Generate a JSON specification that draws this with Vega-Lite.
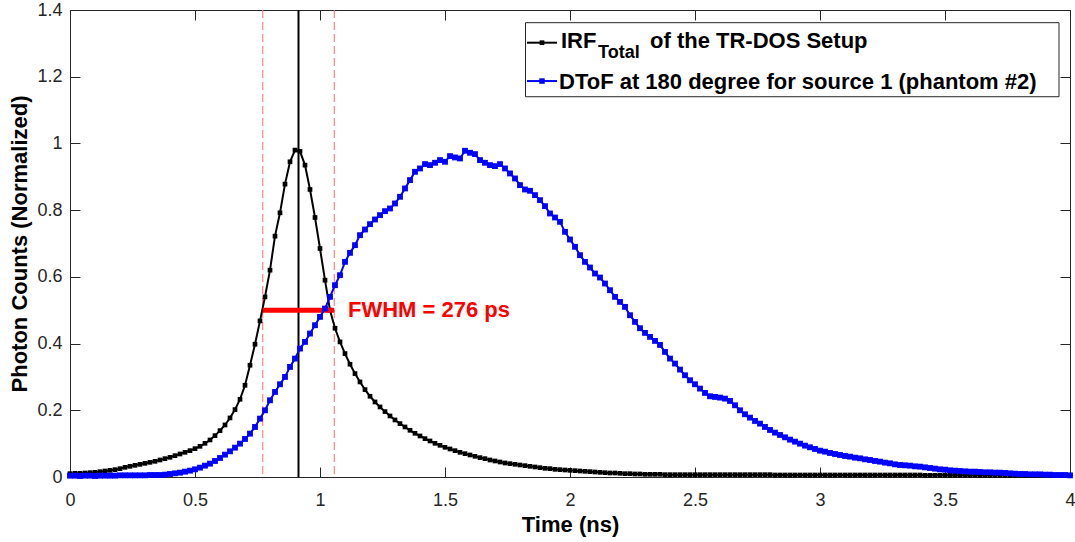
{
  "$schema": "https://vega.github.io/schema/vega-lite/v6.json",
  "width": 1000,
  "height": 467,
  "autosize": {"type": "none"},
  "padding": {"left": 70, "top": 10, "right": 5, "bottom": 65},
  "background": "white",
  "config": {
    "font": "Liberation Sans",
    "view": {"stroke": "#262626", "strokeWidth": 1},
    "axis": {"grid": false, "labelFont": "Liberation Sans", "titleFont": "Liberation Sans", "labelColor": "#262626", "domainColor": "#262626", "tickColor": "#262626", "labelFlush": false, "labelOverlap": false}
  },
  "datasets": {
    "curves": [
      {"t":0,"irf":0.010,"dtof":0.004},{"t":0.02,"irf":0.011,"dtof":0.004},{"t":0.04,"irf":0.011,"dtof":0.003},{"t":0.06,"irf":0.012,"dtof":0.004},{"t":0.08,"irf":0.013,"dtof":0.004},
      {"t":0.1,"irf":0.014,"dtof":0.003},{"t":0.12,"irf":0.016,"dtof":0.004},{"t":0.14,"irf":0.018,"dtof":0.004},{"t":0.16,"irf":0.020,"dtof":0.004},{"t":0.18,"irf":0.022,"dtof":0.004},
      {"t":0.2,"irf":0.025,"dtof":0.005},{"t":0.22,"irf":0.029,"dtof":0.005},{"t":0.24,"irf":0.032,"dtof":0.005},{"t":0.26,"irf":0.035,"dtof":0.005},{"t":0.28,"irf":0.038,"dtof":0.005},
      {"t":0.3,"irf":0.041,"dtof":0.005},{"t":0.32,"irf":0.044,"dtof":0.006},{"t":0.34,"irf":0.047,"dtof":0.006},{"t":0.36,"irf":0.051,"dtof":0.006},{"t":0.38,"irf":0.055,"dtof":0.007},
      {"t":0.4,"irf":0.059,"dtof":0.009},{"t":0.42,"irf":0.064,"dtof":0.011},{"t":0.44,"irf":0.069,"dtof":0.013},{"t":0.46,"irf":0.074,"dtof":0.016},{"t":0.48,"irf":0.079,"dtof":0.019},
      {"t":0.5,"irf":0.085,"dtof":0.023},{"t":0.52,"irf":0.092,"dtof":0.028},{"t":0.54,"irf":0.101,"dtof":0.034},{"t":0.56,"irf":0.111,"dtof":0.040},{"t":0.58,"irf":0.124,"dtof":0.048},
      {"t":0.6,"irf":0.139,"dtof":0.057},{"t":0.62,"irf":0.156,"dtof":0.067},{"t":0.64,"irf":0.177,"dtof":0.077},{"t":0.66,"irf":0.202,"dtof":0.088},{"t":0.68,"irf":0.233,"dtof":0.100},
      {"t":0.7,"irf":0.275,"dtof":0.114},{"t":0.72,"irf":0.335,"dtof":0.130},{"t":0.74,"irf":0.398,"dtof":0.150},{"t":0.76,"irf":0.468,"dtof":0.175},{"t":0.78,"irf":0.540,"dtof":0.200},
      {"t":0.8,"irf":0.620,"dtof":0.230},{"t":0.82,"irf":0.722,"dtof":0.255},{"t":0.84,"irf":0.792,"dtof":0.278},{"t":0.86,"irf":0.878,"dtof":0.300},{"t":0.88,"irf":0.945,"dtof":0.330},
      {"t":0.9,"irf":0.980,"dtof":0.355},{"t":0.92,"irf":0.976,"dtof":0.385},{"t":0.94,"irf":0.935,"dtof":0.405},{"t":0.96,"irf":0.862,"dtof":0.430},{"t":0.98,"irf":0.778,"dtof":0.455},
      {"t":1,"irf":0.685,"dtof":0.480},{"t":1.02,"irf":0.590,"dtof":0.505},{"t":1.04,"irf":0.500,"dtof":0.540},{"t":1.06,"irf":0.446,"dtof":0.575},{"t":1.08,"irf":0.405,"dtof":0.605},
      {"t":1.1,"irf":0.370,"dtof":0.645},{"t":1.12,"irf":0.338,"dtof":0.672},{"t":1.14,"irf":0.310,"dtof":0.695},{"t":1.16,"irf":0.285,"dtof":0.725},{"t":1.18,"irf":0.262,"dtof":0.742},
      {"t":1.2,"irf":0.242,"dtof":0.758},{"t":1.22,"irf":0.225,"dtof":0.772},{"t":1.24,"irf":0.210,"dtof":0.785},{"t":1.26,"irf":0.196,"dtof":0.797},{"t":1.28,"irf":0.183,"dtof":0.805},
      {"t":1.3,"irf":0.171,"dtof":0.820},{"t":1.32,"irf":0.160,"dtof":0.840},{"t":1.34,"irf":0.150,"dtof":0.865},{"t":1.36,"irf":0.140,"dtof":0.890},{"t":1.38,"irf":0.131,"dtof":0.915},
      {"t":1.4,"irf":0.123,"dtof":0.925},{"t":1.42,"irf":0.115,"dtof":0.938},{"t":1.44,"irf":0.108,"dtof":0.935},{"t":1.46,"irf":0.101,"dtof":0.942},{"t":1.48,"irf":0.095,"dtof":0.950},
      {"t":1.5,"irf":0.089,"dtof":0.945},{"t":1.52,"irf":0.084,"dtof":0.962},{"t":1.54,"irf":0.079,"dtof":0.958},{"t":1.56,"irf":0.074,"dtof":0.955},{"t":1.58,"irf":0.070,"dtof":0.978},
      {"t":1.6,"irf":0.066,"dtof":0.972},{"t":1.62,"irf":0.062,"dtof":0.968},{"t":1.64,"irf":0.058,"dtof":0.950},{"t":1.66,"irf":0.055,"dtof":0.942},{"t":1.68,"irf":0.051,"dtof":0.935},
      {"t":1.7,"irf":0.048,"dtof":0.932},{"t":1.72,"irf":0.045,"dtof":0.938},{"t":1.74,"irf":0.042,"dtof":0.925},{"t":1.76,"irf":0.040,"dtof":0.910},{"t":1.78,"irf":0.038,"dtof":0.895},
      {"t":1.8,"irf":0.036,"dtof":0.875},{"t":1.82,"irf":0.034,"dtof":0.862},{"t":1.84,"irf":0.032,"dtof":0.858},{"t":1.86,"irf":0.030,"dtof":0.845},{"t":1.88,"irf":0.028,"dtof":0.830},
      {"t":1.9,"irf":0.026,"dtof":0.812},{"t":1.92,"irf":0.025,"dtof":0.790},{"t":1.94,"irf":0.023,"dtof":0.778},{"t":1.96,"irf":0.022,"dtof":0.765},{"t":1.98,"irf":0.021,"dtof":0.735},
      {"t":2,"irf":0.020,"dtof":0.712},{"t":2.02,"irf":0.019,"dtof":0.690},{"t":2.04,"irf":0.018,"dtof":0.665},{"t":2.06,"irf":0.017,"dtof":0.645},{"t":2.08,"irf":0.016,"dtof":0.628},
      {"t":2.1,"irf":0.015,"dtof":0.610},{"t":2.12,"irf":0.014,"dtof":0.598},{"t":2.14,"irf":0.013,"dtof":0.580},{"t":2.16,"irf":0.012,"dtof":0.560},{"t":2.18,"irf":0.012,"dtof":0.540},
      {"t":2.2,"irf":0.011,"dtof":0.525},{"t":2.22,"irf":0.010,"dtof":0.510},{"t":2.24,"irf":0.010,"dtof":0.485},{"t":2.26,"irf":0.009,"dtof":0.465},{"t":2.28,"irf":0.009,"dtof":0.446},
      {"t":2.3,"irf":0.008,"dtof":0.432},{"t":2.32,"irf":0.008,"dtof":0.420},{"t":2.34,"irf":0.008,"dtof":0.408},{"t":2.36,"irf":0.008,"dtof":0.396},{"t":2.38,"irf":0.007,"dtof":0.375},
      {"t":2.4,"irf":0.007,"dtof":0.355},{"t":2.42,"irf":0.007,"dtof":0.340},{"t":2.44,"irf":0.007,"dtof":0.322},{"t":2.46,"irf":0.007,"dtof":0.305},{"t":2.48,"irf":0.007,"dtof":0.290},
      {"t":2.5,"irf":0.007,"dtof":0.278},{"t":2.52,"irf":0.007,"dtof":0.265},{"t":2.54,"irf":0.007,"dtof":0.252},{"t":2.56,"irf":0.007,"dtof":0.242},{"t":2.58,"irf":0.007,"dtof":0.240},
      {"t":2.6,"irf":0.007,"dtof":0.238},{"t":2.62,"irf":0.007,"dtof":0.235},{"t":2.64,"irf":0.007,"dtof":0.228},{"t":2.66,"irf":0.007,"dtof":0.215},{"t":2.68,"irf":0.007,"dtof":0.200},
      {"t":2.7,"irf":0.007,"dtof":0.188},{"t":2.72,"irf":0.007,"dtof":0.178},{"t":2.74,"irf":0.007,"dtof":0.168},{"t":2.76,"irf":0.007,"dtof":0.160},{"t":2.78,"irf":0.007,"dtof":0.150},
      {"t":2.8,"irf":0.007,"dtof":0.141},{"t":2.82,"irf":0.006,"dtof":0.133},{"t":2.84,"irf":0.006,"dtof":0.126},{"t":2.86,"irf":0.006,"dtof":0.119},{"t":2.88,"irf":0.006,"dtof":0.112},
      {"t":2.9,"irf":0.006,"dtof":0.106},{"t":2.92,"irf":0.006,"dtof":0.100},{"t":2.94,"irf":0.006,"dtof":0.094},{"t":2.96,"irf":0.006,"dtof":0.089},{"t":2.98,"irf":0.006,"dtof":0.084},
      {"t":3,"irf":0.006,"dtof":0.079},{"t":3.02,"irf":0.006,"dtof":0.076},{"t":3.04,"irf":0.006,"dtof":0.072},{"t":3.06,"irf":0.006,"dtof":0.069},{"t":3.08,"irf":0.006,"dtof":0.066},
      {"t":3.1,"irf":0.006,"dtof":0.063},{"t":3.12,"irf":0.006,"dtof":0.061},{"t":3.14,"irf":0.006,"dtof":0.058},{"t":3.16,"irf":0.006,"dtof":0.056},{"t":3.18,"irf":0.006,"dtof":0.053},
      {"t":3.2,"irf":0.006,"dtof":0.051},{"t":3.22,"irf":0.006,"dtof":0.048},{"t":3.24,"irf":0.006,"dtof":0.046},{"t":3.26,"irf":0.006,"dtof":0.043},{"t":3.28,"irf":0.006,"dtof":0.041},
      {"t":3.3,"irf":0.006,"dtof":0.038},{"t":3.32,"irf":0.006,"dtof":0.036},{"t":3.34,"irf":0.006,"dtof":0.035},{"t":3.36,"irf":0.006,"dtof":0.034},{"t":3.38,"irf":0.006,"dtof":0.032},
      {"t":3.4,"irf":0.006,"dtof":0.031},{"t":3.42,"irf":0.005,"dtof":0.029},{"t":3.44,"irf":0.005,"dtof":0.027},{"t":3.46,"irf":0.005,"dtof":0.025},{"t":3.48,"irf":0.005,"dtof":0.023},
      {"t":3.5,"irf":0.005,"dtof":0.022},{"t":3.52,"irf":0.005,"dtof":0.020},{"t":3.54,"irf":0.005,"dtof":0.019},{"t":3.56,"irf":0.005,"dtof":0.018},{"t":3.58,"irf":0.005,"dtof":0.017},
      {"t":3.6,"irf":0.005,"dtof":0.016},{"t":3.62,"irf":0.005,"dtof":0.016},{"t":3.64,"irf":0.005,"dtof":0.015},{"t":3.66,"irf":0.005,"dtof":0.014},{"t":3.68,"irf":0.005,"dtof":0.014},
      {"t":3.7,"irf":0.005,"dtof":0.013},{"t":3.72,"irf":0.005,"dtof":0.013},{"t":3.74,"irf":0.005,"dtof":0.012},{"t":3.76,"irf":0.005,"dtof":0.011},{"t":3.78,"irf":0.005,"dtof":0.010},
      {"t":3.8,"irf":0.005,"dtof":0.009},{"t":3.82,"irf":0.005,"dtof":0.009},{"t":3.84,"irf":0.005,"dtof":0.008},{"t":3.86,"irf":0.005,"dtof":0.008},{"t":3.88,"irf":0.005,"dtof":0.008},
      {"t":3.9,"irf":0.005,"dtof":0.007},{"t":3.92,"irf":0.005,"dtof":0.007},{"t":3.94,"irf":0.005,"dtof":0.006},{"t":3.96,"irf":0.005,"dtof":0.006},{"t":3.98,"irf":0.005,"dtof":0.006},
      {"t":4,"irf":0.005,"dtof":0.005}
    ],
    "one": [{}]
  },
  "resolve": {"axis": {"x": "independent", "y": "independent"}},
  "layer": [
    {
      "data": {"name": "one"},
      "mark": {"type": "rule", "color": "#ff6b6b", "strokeDash": [8, 4], "strokeWidth": 1},
      "encoding": {"x": {"datum": 0.771, "type": "quantitative", "scale": {"domain": [0, 4], "nice": false}, "axis": null}}
    },
    {
      "data": {"name": "one"},
      "mark": {"type": "rule", "color": "#ff6b6b", "strokeDash": [8, 4], "strokeWidth": 1},
      "encoding": {"x": {"datum": 1.057, "type": "quantitative", "scale": {"domain": [0, 4], "nice": false}, "axis": null}}
    },
    {
      "data": {"name": "one"},
      "mark": {"type": "rule", "color": "black", "strokeWidth": 2},
      "encoding": {"x": {"datum": 0.914, "type": "quantitative", "scale": {"domain": [0, 4], "nice": false}, "axis": null}}
    },
    {
      "data": {"name": "curves"},
      "mark": {"type": "line", "color": "black", "strokeWidth": 2, "point": {"shape": "square", "filled": true, "size": 22, "color": "black"}},
      "encoding": {
        "x": {"field": "t", "type": "quantitative", "scale": {"domain": [0, 4], "nice": false},
          "axis": {"orient": "bottom", "values": [0, 0.5, 1, 1.5, 2, 2.5, 3, 3.5, 4], "format": "~g", "tickSize": -10, "labelPadding": 24, "labelFontSize": 18,
            "title": "Time (ns)", "titleFontSize": 22, "titleFontWeight": "bold", "titleColor": "black", "titleX": 500, "titleY": 54, "titleBaseline": "alphabetic", "titleAnchor": "middle", "titleAlign": "center"}},
        "y": {"field": "irf", "type": "quantitative", "scale": {"domain": [0, 1.4], "nice": false, "zero": false},
          "axis": {"orient": "left", "values": [0, 0.2, 0.4, 0.6, 0.8, 1, 1.2, 1.4], "format": "~g", "tickSize": -10, "labelPadding": 18, "labelFontSize": 18,
            "title": "Photon Counts (Normalized)", "titleFontSize": 22, "titleFontWeight": "bold", "titleColor": "black", "titleX": -44, "titleY": 233.5, "titleBaseline": "alphabetic", "titleAlign": "center", "titleAngle": 270}}
      }
    },
    {
      "data": {"name": "one"},
      "mark": {"type": "rule", "color": "#ff0000", "strokeWidth": 5},
      "encoding": {
        "x": {"datum": 0.771, "type": "quantitative", "scale": {"domain": [0, 4], "nice": false}, "axis": null},
        "x2": {"datum": 1.057},
        "y": {"datum": 0.5, "type": "quantitative", "scale": {"domain": [0, 1.4], "nice": false, "zero": false}, "axis": null}
      }
    },
    {
      "data": {"name": "curves"},
      "mark": {"type": "line", "color": "#0000ff", "strokeWidth": 2, "point": {"shape": "square", "filled": true, "size": 34, "color": "#0000ff"}},
      "encoding": {
        "x": {"field": "t", "type": "quantitative", "scale": {"domain": [0, 4], "nice": false},
          "axis": {"orient": "top", "values": [0, 0.5, 1, 1.5, 2, 2.5, 3, 3.5, 4], "labels": false, "tickSize": -10, "title": null}},
        "y": {"field": "dtof", "type": "quantitative", "scale": {"domain": [0, 1.4], "nice": false, "zero": false},
          "axis": {"orient": "right", "values": [0, 0.2, 0.4, 0.6, 0.8, 1, 1.2, 1.4], "labels": false, "tickSize": -10, "title": null}}
      }
    },
    {
      "data": {"name": "one"},
      "mark": {"type": "text", "text": "FWHM = 276 ps", "color": "#ff0000", "fontSize": 22, "fontWeight": "bold", "align": "left", "baseline": "middle", "font": "Liberation Sans"},
      "encoding": {
        "x": {"datum": 1.112, "type": "quantitative", "scale": {"domain": [0, 4], "nice": false}, "axis": null},
        "y": {"datum": 0.5, "type": "quantitative", "scale": {"domain": [0, 1.4], "nice": false, "zero": false}, "axis": null}
      }
    },
    {
      "data": {"name": "one"},
      "mark": {"type": "rect", "fill": "white", "stroke": "#262626", "strokeWidth": 1},
      "encoding": {
        "x": {"datum": 1.822, "type": "quantitative", "scale": {"domain": [0, 4], "nice": false}, "axis": null},
        "x2": {"datum": 3.956},
        "y": {"datum": 1.362, "type": "quantitative", "scale": {"domain": [0, 1.4], "nice": false, "zero": false}, "axis": null},
        "y2": {"datum": 1.140}
      }
    },
    {
      "data": {"name": "one"},
      "mark": {"type": "rule", "color": "black", "strokeWidth": 2},
      "encoding": {
        "x": {"datum": 1.828, "type": "quantitative", "scale": {"domain": [0, 4], "nice": false}, "axis": null},
        "x2": {"datum": 1.948},
        "y": {"datum": 1.302, "type": "quantitative", "scale": {"domain": [0, 1.4], "nice": false, "zero": false}, "axis": null}
      }
    },
    {
      "data": {"name": "one"},
      "mark": {"type": "point", "shape": "square", "filled": true, "size": 22, "color": "black", "opacity": 1},
      "encoding": {
        "x": {"datum": 1.888, "type": "quantitative", "scale": {"domain": [0, 4], "nice": false}, "axis": null},
        "y": {"datum": 1.302, "type": "quantitative", "scale": {"domain": [0, 1.4], "nice": false, "zero": false}, "axis": null}
      }
    },
    {
      "data": {"name": "one"},
      "mark": {"type": "rule", "color": "#0000ff", "strokeWidth": 2},
      "encoding": {
        "x": {"datum": 1.828, "type": "quantitative", "scale": {"domain": [0, 4], "nice": false}, "axis": null},
        "x2": {"datum": 1.948},
        "y": {"datum": 1.187, "type": "quantitative", "scale": {"domain": [0, 1.4], "nice": false, "zero": false}, "axis": null}
      }
    },
    {
      "data": {"name": "one"},
      "mark": {"type": "point", "shape": "square", "filled": true, "size": 30, "color": "#0000ff", "opacity": 1},
      "encoding": {
        "x": {"datum": 1.888, "type": "quantitative", "scale": {"domain": [0, 4], "nice": false}, "axis": null},
        "y": {"datum": 1.187, "type": "quantitative", "scale": {"domain": [0, 1.4], "nice": false, "zero": false}, "axis": null}
      }
    },
    {
      "data": {"name": "one"},
      "mark": {"type": "text", "text": "IRF", "color": "black", "fontSize": 22, "fontWeight": "bold", "align": "left", "baseline": "alphabetic", "font": "Liberation Sans"},
      "encoding": {
        "x": {"datum": 1.964, "type": "quantitative", "scale": {"domain": [0, 4], "nice": false}, "axis": null},
        "y": {"datum": 1.285, "type": "quantitative", "scale": {"domain": [0, 1.4], "nice": false, "zero": false}, "axis": null}
      }
    },
    {
      "data": {"name": "one"},
      "mark": {"type": "text", "text": "Total", "color": "black", "fontSize": 18, "fontWeight": "bold", "align": "left", "baseline": "alphabetic", "font": "Liberation Sans"},
      "encoding": {
        "x": {"datum": 2.112, "type": "quantitative", "scale": {"domain": [0, 4], "nice": false}, "axis": null},
        "y": {"datum": 1.255, "type": "quantitative", "scale": {"domain": [0, 1.4], "nice": false, "zero": false}, "axis": null}
      }
    },
    {
      "data": {"name": "one"},
      "mark": {"type": "text", "text": "of the TR-DOS Setup", "color": "black", "fontSize": 22, "fontWeight": "bold", "align": "left", "baseline": "alphabetic", "font": "Liberation Sans"},
      "encoding": {
        "x": {"datum": 2.32, "type": "quantitative", "scale": {"domain": [0, 4], "nice": false}, "axis": null},
        "y": {"datum": 1.285, "type": "quantitative", "scale": {"domain": [0, 1.4], "nice": false, "zero": false}, "axis": null}
      }
    },
    {
      "data": {"name": "one"},
      "mark": {"type": "text", "text": "DToF at 180 degree for source 1 (phantom #2)", "color": "black", "fontSize": 22, "fontWeight": "bold", "align": "left", "baseline": "alphabetic", "font": "Liberation Sans"},
      "encoding": {
        "x": {"datum": 1.956, "type": "quantitative", "scale": {"domain": [0, 4], "nice": false}, "axis": null},
        "y": {"datum": 1.162, "type": "quantitative", "scale": {"domain": [0, 1.4], "nice": false, "zero": false}, "axis": null}
      }
    }
  ]
}
